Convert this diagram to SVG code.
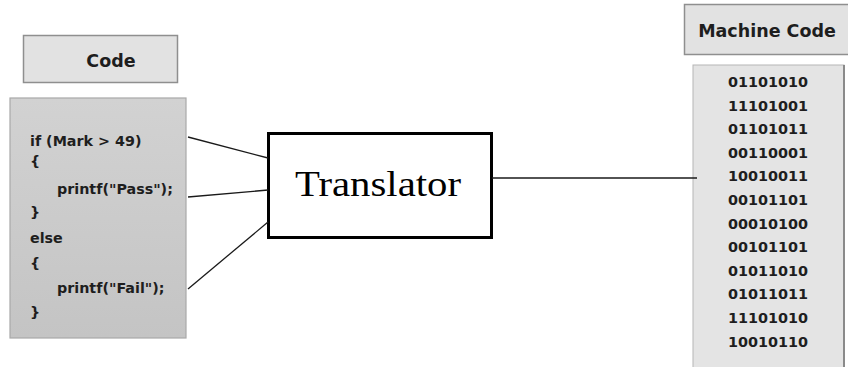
<svg xmlns="http://www.w3.org/2000/svg" width="848" height="367" viewBox="0 0 848 367">
<style>
.hdr{fill:#e2e2e2;stroke:#8f8f8f;stroke-width:1.5}
.t{font-family:"DejaVu Sans",sans-serif;font-weight:bold;fill:#1e1e1e}
.code{font-size:14.3px}
.bin{font-size:14.4px;text-anchor:middle}
.conn line{stroke:#1a1a1a;stroke-width:1.3}
</style>
<defs>
<linearGradient id="g1" x1="0" y1="0" x2="0" y2="1">
<stop offset="0" stop-color="#d2d2d2"/><stop offset="1" stop-color="#c4c4c4"/>
</linearGradient>
</defs>
<rect width="848" height="367" fill="#fff"/>
<g id="code-header">
<rect class="hdr" x="23.5" y="35.5" width="154" height="47"/>
<text class="t" x="111" y="67" font-size="17.5" text-anchor="middle">Code</text>
</g>
<g id="code-body">
<rect x="10" y="98" width="176" height="240" fill="url(#g1)" stroke="#a8a8a8" stroke-width="1.2"/>
<text class="t code" x="30" y="146">if (Mark &gt; 49)</text>
<text class="t code" x="30" y="166">{</text>
<text class="t code" x="57" y="194">printf("Pass");</text>
<text class="t code" x="30" y="217">}</text>
<text class="t code" x="30" y="243">else</text>
<text class="t code" x="30" y="268">{</text>
<text class="t code" x="57" y="293">printf("Fail");</text>
<text class="t code" x="30" y="317">}</text>
</g>
<g id="translator">
<rect x="268.5" y="133.5" width="223" height="104" fill="#fff" stroke="#000" stroke-width="3"/>
<text x="378" y="196" font-family="Liberation Serif, serif" font-size="36" text-anchor="middle" fill="#000" textLength="166" lengthAdjust="spacingAndGlyphs">Translator</text>
</g>
<g id="machine-header">
<rect class="hdr" x="684.5" y="4.5" width="165" height="50"/>
<text class="t" x="767" y="37" font-size="17.5" text-anchor="middle">Machine Code</text>
</g>
<g id="machine-body">
<rect x="693" y="65" width="151" height="310" fill="#e4e4e4" stroke="#b5b5b5" stroke-width="1"/>
<line x1="844" y1="65" x2="844" y2="367" stroke="#8a8a8a" stroke-width="2"/>
<text class="t bin" x="768" y="87">01101010</text>
<text class="t bin" x="768" y="110.6">11101001</text>
<text class="t bin" x="768" y="134.2">01101011</text>
<text class="t bin" x="768" y="157.8">00110001</text>
<text class="t bin" x="768" y="181.4">10010011</text>
<text class="t bin" x="768" y="205">00101101</text>
<text class="t bin" x="768" y="228.6">00010100</text>
<text class="t bin" x="768" y="252.2">00101101</text>
<text class="t bin" x="768" y="275.8">01011010</text>
<text class="t bin" x="768" y="299.4">01011011</text>
<text class="t bin" x="768" y="323">11101010</text>
<text class="t bin" x="768" y="346.6">10010110</text>
</g>
<g id="connectors" class="conn">
<line x1="188" y1="137" x2="268" y2="158"/>
<line x1="188" y1="197" x2="268" y2="190"/>
<line x1="188" y1="289" x2="268" y2="222"/>
<line x1="492" y1="178" x2="697" y2="178"/>
</g>
</svg>
